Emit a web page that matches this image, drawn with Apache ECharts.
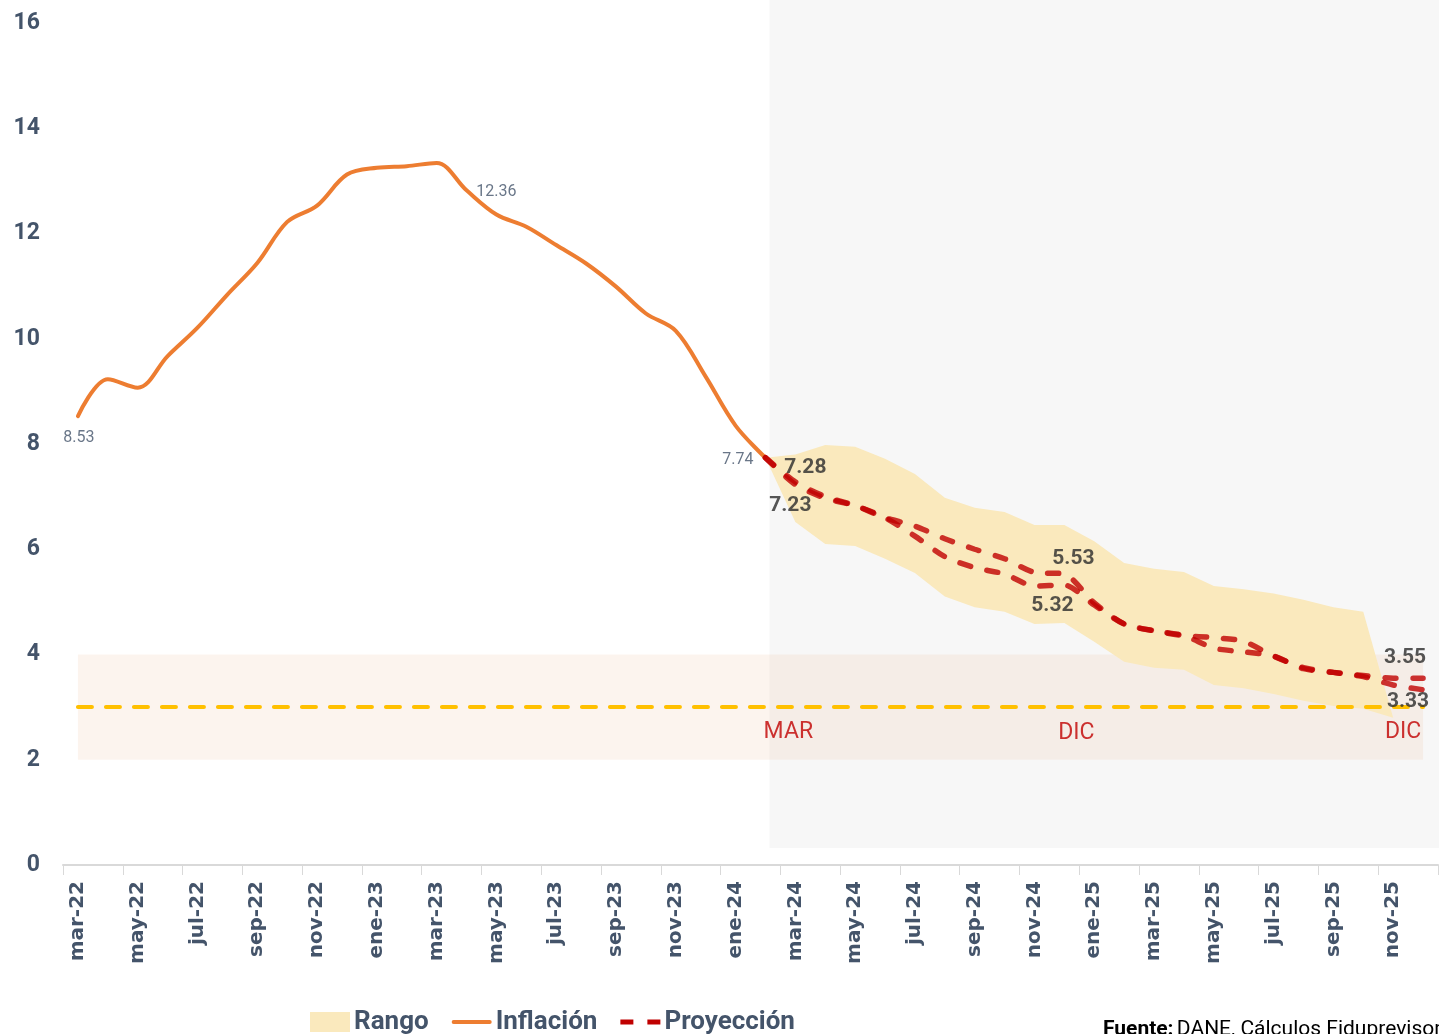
<!DOCTYPE html>
<html>
<head>
<meta charset="utf-8">
<script src="https://cdn.jsdelivr.net/npm/echarts@6/dist/echarts.min.js"></script>
<style>
	html, body { margin: 0; padding: 0; background: #fff; }
	#chart { width: 1439px; height: 1034px; }
</style>
</head>
<body>
<div id="chart"></div>
<script>
// categorías mensuales
const categorias = [
	'mar-22', 'abr-22', 'may-22', 'jun-22', 'jul-22', 'ago-22', 'sep-22', 'oct-22', 'nov-22', 'dic-22',
	'ene-23', 'feb-23', 'mar-23', 'abr-23', 'may-23', 'jun-23', 'jul-23', 'ago-23', 'sep-23', 'oct-23', 'nov-23', 'dic-23',
	'ene-24', 'feb-24', 'mar-24', 'abr-24', 'may-24', 'jun-24', 'jul-24', 'ago-24', 'sep-24', 'oct-24', 'nov-24', 'dic-24',
	'ene-25', 'feb-25', 'mar-25', 'abr-25', 'may-25', 'jun-25', 'jul-25', 'ago-25', 'sep-25', 'oct-25', 'nov-25', 'dic-25'
]

// inflación observada (mar-22 a feb-24)
const inflacion = [8.53, 9.23, 9.07, 9.67, 10.21, 10.84, 11.44, 12.22, 12.53, 13.12,
	13.25, 13.28, 13.34, 12.82, 12.36, 12.13, 11.78, 11.43, 10.99, 10.48, 10.15, 9.28,
	8.35, 7.74]

// proyecciones (feb-24 a dic-25)
const inicioProyeccion = 'feb-24'
const proyeccionAlta = [7.74, 7.28, 7.0, 6.83, 6.6, 6.44, 6.2, 6.0, 5.82, 5.56, 5.53,
	4.98, 4.58, 4.45, 4.36, 4.32, 4.25, 3.97, 3.75, 3.66, 3.6, 3.55, 3.55]
const proyeccionBaja = [7.74, 7.23, 6.97, 6.83, 6.6, 6.25, 5.86, 5.65, 5.53, 5.3, 5.32,
	4.94, 4.58, 4.45, 4.36, 4.12, 4.05, 3.97, 3.73, 3.66, 3.58, 3.42, 3.33]

// rango de pronóstico (feb-24 a nov-25)
const rangoInferior = [7.74, 6.52, 6.1, 6.06, 5.82, 5.55, 5.1, 4.9, 4.81, 4.58, 4.6,
	4.24, 3.86, 3.75, 3.71, 3.42, 3.36, 3.25, 3.12, 3.02, 2.97, 2.8]
const rangoSuperior = [7.74, 7.8, 7.98, 7.95, 7.72, 7.43, 6.98, 6.79, 6.71, 6.46, 6.46,
	6.15, 5.74, 5.63, 5.57, 5.3, 5.24, 5.16, 5.04, 4.9, 4.81, 2.8]

// meta del Banco de la República
const metaInflacion = 3
const rangoMeta = [2, 4]

// anotaciones
const hitos = ['mar-24', 'dic-24', 'dic-25']
const hitosTexto = ['MAR', 'DIC', 'DIC']
const hitosValor = 2.55

// puntos con etiqueta
const etiquetasInflacion = ['mar-22', 'may-23', 'feb-24']
const etiquetasProyeccion = ['mar-24', 'dic-24', 'dic-25']

const ejeY = [0, 16, 2]

const azul = '#44546A'
const naranja = '#ED7D31'
const rojo = 'rgba(192, 0, 0, 0.8)'
const beige = '#FAE9BD'

const offset = categorias.indexOf(inicioProyeccion)
const pad = (arr) => new Array(offset).fill('-').concat(arr)
const valorEn = (arr, inicio, cat) => arr[categorias.indexOf(cat) - inicio]

const bandaBase = pad(rangoInferior)
const bandaAncho = pad(rangoSuperior.map((v, i) => +(v - rangoInferior[i]).toFixed(2)))

// ubicación de las etiquetas
const posInflacion = [
	{ position: 'bottom', offset: [1, 9] },
	{ position: 'top', offset: [0, -10] },
	{ position: 'left', offset: [-7, 2] }
]
const posAlta = [
	{ position: 'top', offset: [10, 0] },
	{ position: 'top', offset: [9, -1] },
	{ position: 'top', offset: [-18, -6] }
]
const posBaja = [
	{ position: 'bottom', offset: [-5, 7] },
	{ position: 'bottom', offset: [-12, 6] },
	{ position: 'bottom', offset: [-15, -3] }
]

const datosEtiquetaInflacion = etiquetasInflacion.map((c, i) => ({
	value: [c, valorEn(inflacion, 0, c)],
	label: posInflacion[i]
}))
const datosEtiquetaProy = etiquetasProyeccion.map((c, i) => ({
	value: [c, valorEn(proyeccionAlta, offset, c)],
	label: posAlta[i]
})).concat(etiquetasProyeccion.map((c, i) => ({
	value: [c, valorEn(proyeccionBaja, offset, c)],
	label: posBaja[i]
})))

const offsetsHitos = [[-7, 1], [12, 2], [-20, 1]]
const datosHitos = hitos.map((h, i) => ({
	value: [h, hitosValor],
	label: { formatter: hitosTexto[i], offset: offsetsHitos[i] }
}))

const dosDecimales = (p) => p.value[1].toFixed(2)

const option = {
	animation: false,
	backgroundColor: '#fff',
	grid: { left: 63, right: 1, top: 23, bottom: 169, containLabel: false },
	legend: {
		left: 305,
		top: 1004,
		itemWidth: 40,
		itemHeight: 20,
		itemGap: 23,
		textStyle: { fontFamily: 'Roboto', fontWeight: 'bold', fontSize: 26, color: azul, padding: [0, 0, 0, -1] },
		data: [
			{ name: 'Rango', icon: 'rect', itemStyle: { color: beige } },
			{ name: 'Inflación', icon: 'path://M2,0H40A2,2,0,0,1,40,4H2A2,2,0,0,1,2,0Z', itemStyle: { color: naranja } },
			{ name: 'Proyección', icon: 'path://M0,0H13V5H0Z M27,0H40V5H27Z', itemStyle: { color: '#C00000' } }
		]
	},
	xAxis: {
		type: 'category',
		data: categorias,
		boundaryGap: true,
		axisLine: { lineStyle: { color: '#D9D9D9', width: 2 } },
		axisTick: { show: true, interval: 1, length: 10, lineStyle: { color: '#D9D9D9', width: 1 } },
		axisLabel: {
			interval: 1,
			rotate: 90,
			margin: 16,
			fontFamily: 'DejaVu Sans',
			fontWeight: 'bold',
			fontSize: 20,
			color: azul
		},
		splitLine: { show: false }
	},
	yAxis: {
		type: 'value',
		min: ejeY[0],
		max: ejeY[1],
		interval: ejeY[2],
		axisLine: { show: false },
		axisTick: { show: false },
		splitLine: { show: false },
		axisLabel: {
			margin: 23,
			fontFamily: 'Roboto',
			fontWeight: 'bold',
			fontSize: 23,
			color: azul
		}
	},
	series: [
		{
			name: 'RangoBase',
			type: 'line',
			stack: 'rango',
			data: bandaBase,
			symbol: 'none',
			lineStyle: { width: 0, opacity: 0 },
			areaStyle: { opacity: 0 },
			silent: true,
			z: 1
		},
		{
			name: 'Rango',
			type: 'line',
			stack: 'rango',
			data: bandaAncho,
			symbol: 'none',
			lineStyle: { width: 0, opacity: 0 },
			areaStyle: { color: beige, opacity: 1 },
			itemStyle: { color: beige },
			z: 1
		},
		{
			name: 'Meta',
			type: 'line',
			data: [],
			z: 2,
			markArea: {
				silent: true,
				itemStyle: { color: 'rgba(238, 185, 150, 0.16)' },
				data: [[
					{ xAxis: categorias[0], yAxis: rangoMeta[0] },
					{ xAxis: categorias[categorias.length - 1], yAxis: rangoMeta[1] }
				]]
			},
			markLine: {
				silent: true,
				symbol: 'none',
				label: { show: false },
				lineStyle: { color: '#FFC000', width: 4, type: [14, 14], cap: 'round' },
				data: [[
					{ coord: [categorias[0], metaInflacion] },
					{ coord: [categorias[categorias.length - 1], metaInflacion] }
				]]
			}
		},
		{
			name: 'Inflación',
			type: 'line',
			data: inflacion,
			smooth: 0.35,
			symbol: 'none',
			lineStyle: { color: naranja, width: 4, cap: 'round' },
			itemStyle: { color: naranja },
			z: 3
		},
		{
			name: 'Proyección',
			type: 'line',
			data: pad(proyeccionAlta),
			smooth: 0.25,
			symbol: 'none',
			lineStyle: { color: rojo, width: 5.5, type: [11, 17], cap: 'round' },
			itemStyle: { color: '#C00000' },
			z: 4
		},
		{
			name: 'Proyección',
			type: 'line',
			data: pad(proyeccionBaja),
			smooth: 0.25,
			symbol: 'none',
			lineStyle: { color: rojo, width: 5.5, type: [11, 17], cap: 'round' },
			itemStyle: { color: '#C00000' },
			z: 4
		},
		{
			name: 'EtiquetasInflacion',
			type: 'scatter',
			data: datosEtiquetaInflacion,
			symbolSize: 0,
			silent: true,
			label: { show: true, fontFamily: 'Roboto', fontSize: 16, color: azul, distance: 5, formatter: dosDecimales },
			z: 6
		},
		{
			name: 'EtiquetasProyeccion',
			type: 'scatter',
			data: datosEtiquetaProy,
			symbolSize: 0,
			silent: true,
			label: {
				show: true,
				fontFamily: 'Roboto',
				fontWeight: 'bold',
				fontSize: 21,
				color: '#2b2b2b',
				distance: 4,
				formatter: dosDecimales
			},
			z: 6
		},
		{
			name: 'Hitos',
			type: 'scatter',
			data: datosHitos,
			symbolSize: 0,
			silent: true,
			label: {
				show: true,
				position: 'inside',
				fontFamily: 'Roboto',
				fontSize: 23,
				color: '#C00000'
			},
			z: 5
		}
	]
}

const chart = echarts.init(document.getElementById('chart'))
chart.setOption(option)

// fondo gris de la zona proyectada y fuente
const xIni = chart.convertToPixel({ xAxisIndex: 0 }, inicioProyeccion) + 4
const yCero = chart.convertToPixel({ yAxisIndex: 0 }, 0)
chart.setOption({
	graphic: [
		{
			type: 'rect',
			z: 0,
			silent: true,
			shape: { x: xIni, y: 0, width: 1439 - xIni, height: yCero - 17 },
			style: { fill: '#F7F7F7' }
		},
		{
			type: 'text',
			left: 1103,
			top: 1019,
			z: 10,
			style: {
				text: '{b|Fuente:} {r|DANE, Cálculos Fiduprevisora}',
				rich: {
					b: { fontFamily: 'Roboto', fontWeight: 'bold', fontSize: 21, fill: '#000' },
					r: { fontFamily: 'Roboto', fontSize: 21, fill: '#000' }
				}
			}
		},
		{
			type: 'line',
			z: 10,
			shape: { x1: 1103, y1: 1041, x2: 1176, y2: 1041 },
			style: { stroke: '#000', lineWidth: 1.5 }
		}
	]
})
</script>
</body>
</html>
